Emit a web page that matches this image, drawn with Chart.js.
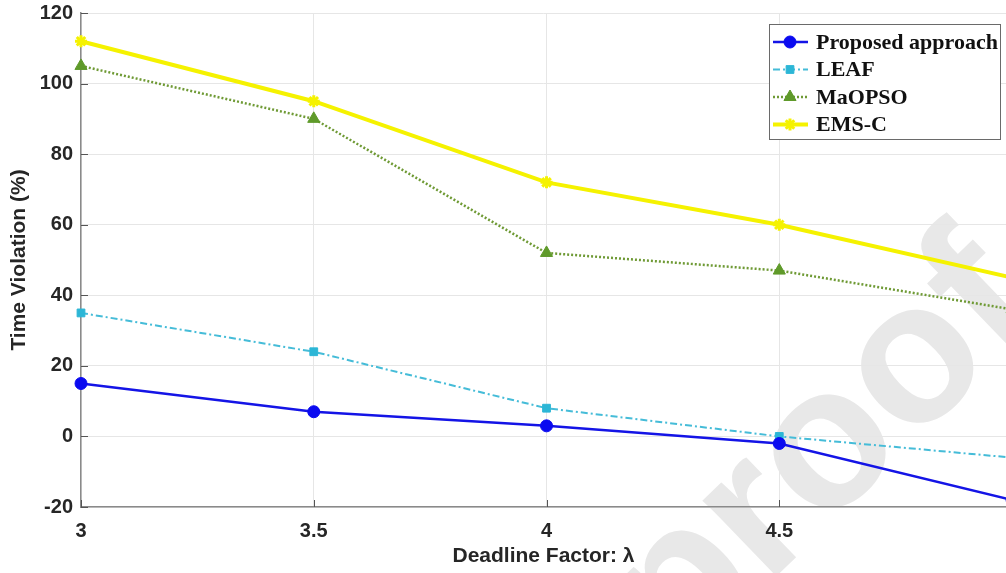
<!DOCTYPE html>
<html>
<head>
<meta charset="utf-8">
<script src="https://cdn.jsdelivr.net/npm/chart.js@4/dist/chart.umd.min.js"></script>
<style>
  html, body { margin: 0; padding: 0; background: #fff; overflow: hidden; }
  #chart { display: block; }
</style>
</head>
<body>
<canvas id="chart" width="1006" height="573"></canvas>
<script>
// Deadline factor values (x axis); the original figure is cut just before 5
const deadlineFactors = [3, 3.5, 4, 4.5, 5];
const xRange = [3, 4.987];

// Time violation (%) per method
const proposedValues = [15, 7, 3, -2, -18];
const leafValues = [35, 24, 8, 0, -6];
const maopsoValues = [105, 90, 52, 47, 36];
const emscValues = [112, 95, 72, 60, 45];

const seriesNames = ['Proposed approach', 'LEAF', 'MaOPSO', 'EMS-C'];
const yTicks = [-20, 0, 20, 40, 60, 80, 100, 120];
const xTicks = [3, 3.5, 4, 4.5];

function toPoints(values) {
  return values.map((v, i) => ({ x: deadlineFactors[i], y: v }));
}

// Legend drawn inside the plot, line + marker per entry (MATLAB style)
const insideLegend = {
  id: 'insideLegend',
  afterDraw(chart) {
    const { ctx, chartArea } = chart;
    const boxR = chartArea.right - 6;
    const boxL = boxR - 231;
    const boxT = chartArea.top + 11;
    const rowH = 27.5;
    const boxH = rowH * 4 + 5;
    ctx.save();
    ctx.fillStyle = '#fff';
    ctx.fillRect(boxL, boxT, boxR - boxL, boxH);
    ctx.strokeStyle = '#6a6a6a';
    ctx.lineWidth = 1;
    ctx.strokeRect(boxL + 0.5, boxT + 0.5, boxR - boxL, boxH);
    chart.data.datasets.forEach((ds, i) => {
      const y = boxT + 18 + i * rowH;
      ctx.save();
      ctx.strokeStyle = ds.borderColor;
      ctx.lineWidth = ds.borderWidth;
      ctx.setLineDash(ds.borderDash || []);
      ctx.beginPath();
      ctx.moveTo(boxL + 4, y);
      ctx.lineTo(boxL + 39, y);
      ctx.stroke();
      ctx.restore();
      ctx.save();
      ctx.fillStyle = ds.pointBackgroundColor;
      ctx.strokeStyle = ds.pointBorderColor;
      ctx.lineWidth = ds.pointBorderWidth;
      Chart.helpers.drawPoint(ctx, {
        pointStyle: ds.pointStyle,
        radius: ds.pointRadius,
        rotation: 0,
        borderWidth: ds.pointBorderWidth
      }, boxL + 21, y);
      ctx.restore();
      ctx.fillStyle = '#111';
      ctx.font = 'bold 22px "Liberation Serif", "Times New Roman", serif';
      ctx.textBaseline = 'middle';
      ctx.textAlign = 'left';
      ctx.fillText(ds.label, boxL + 47, y + 1);
    });
    ctx.restore();
  }
};

// Small inward tick marks on the axes
const innerTicks = {
  id: 'innerTicks',
  afterDatasetsDraw(chart) {
    const { ctx, chartArea, scales } = chart;
    ctx.save();
    ctx.strokeStyle = '#555';
    ctx.lineWidth = 1;
    ctx.beginPath();
    xTicks.forEach(v => {
      const x = Math.round(scales.x.getPixelForValue(v)) + 0.5;
      ctx.moveTo(x, chartArea.bottom);
      ctx.lineTo(x, chartArea.bottom - 7);
    });
    yTicks.forEach(v => {
      const y = Math.round(scales.y.getPixelForValue(v)) + 0.5;
      ctx.moveTo(chartArea.left, y);
      ctx.lineTo(chartArea.left + 7, y);
    });
    ctx.stroke();
    ctx.restore();
  }
};

// Journal pre-proof watermark, painted first so axes and labels sit on top
const watermark = {
  id: 'watermark',
  beforeDraw(chart) {
    const { ctx } = chart;
    const size = 200;
    ctx.save();
    ctx.font = 'bold ' + size + 'px "Liberation Sans", Arial, sans-serif';
    ctx.fillStyle = '#e8e8e8';
    ctx.textBaseline = 'alphabetic';
    ctx.textAlign = 'left';
    const text = 'Journal Pre-proof';
    const before = ctx.measureText('Journal Pre-pr').width;
    const oW = ctx.measureText('o').width;
    ctx.translate(830, 452);
    ctx.rotate(-44 * Math.PI / 180);
    ctx.fillText(text, -(before + oW / 2), size * 0.26);
    ctx.restore();
  }
};

const tickFont = { family: '"Liberation Sans", Arial, sans-serif', size: 20, weight: 'bold' };
const titleFont = { family: '"Liberation Sans", Arial, sans-serif', size: 21, weight: 'bold' };

new Chart(document.getElementById('chart'), {
  type: 'line',
  data: {
    datasets: [
      {
        label: seriesNames[0],
        data: toPoints(proposedValues),
        borderColor: '#1414e6',
        borderWidth: 2.5,
        pointStyle: 'circle',
        pointRadius: 6,
        pointBackgroundColor: '#0a0af0',
        pointBorderColor: '#0a0af0',
        pointBorderWidth: 1,
        tension: 0,
        clip: false,
      },
      {
        label: seriesNames[1],
        data: toPoints(leafValues),
        borderColor: '#45bcd8',
        borderWidth: 2,
        borderDash: [7, 3, 2, 3],
        pointStyle: 'rect',
        pointRadius: 5.5,
        pointBackgroundColor: '#2cb6d6',
        pointBorderColor: '#2cb6d6',
        pointBorderWidth: 1,
        tension: 0,
        clip: false,
      },
      {
        label: seriesNames[2],
        data: toPoints(maopsoValues),
        borderColor: '#6f9a35',
        borderWidth: 2.5,
        borderDash: [2, 2],
        pointStyle: 'triangle',
        pointRadius: 7,
        pointBackgroundColor: '#5f9a2a',
        pointBorderColor: '#5f9a2a',
        pointBorderWidth: 1,
        tension: 0,
        clip: false,
      },
      {
        label: seriesNames[3],
        data: toPoints(emscValues),
        borderColor: '#f5f200',
        borderWidth: 4,
        pointStyle: 'star',
        pointRadius: 6,
        pointBackgroundColor: '#f5f200',
        pointBorderColor: '#f5f200',
        pointBorderWidth: 3,
        tension: 0,
        clip: false,
      },
    ],
  },
  options: {
    responsive: false,
    animation: false,
    devicePixelRatio: 1,
    layout: { autoPadding: false, padding: { top: 13, right: 0, bottom: 0, left: 0 } },
    plugins: {
      legend: { display: false },
      tooltip: { enabled: false },
    },
    scales: {
      x: {
        type: 'linear',
        min: xRange[0],
        max: xRange[1],
        afterBuildTicks: (scale) => { scale.ticks = xTicks.map(v => ({ value: v })); },
        afterFit: (scale) => { scale.height = 66; scale.paddingLeft = 0; scale.paddingRight = 0; },
        grid: { color: '#e6e6e6', lineWidth: 1, drawTicks: false },
        border: { color: '#8a8a8a', width: 1.5 },
        ticks: { font: tickFont, color: '#262626', padding: 12, maxRotation: 0, autoSkip: false,
                 callback: (v) => String(v) },
        title: { display: true, text: 'Deadline Factor: \u03bb', font: titleFont, color: '#262626',
                 padding: { top: 0, bottom: 4 } },
      },
      y: {
        min: -20,
        max: 120,
        afterBuildTicks: (scale) => { scale.ticks = yTicks.map(v => ({ value: v })); },
        afterFit: (scale) => { scale.width = 81; scale.paddingTop = 0; scale.paddingBottom = 0; },
        grid: { color: '#e6e6e6', lineWidth: 1, drawTicks: false },
        border: { color: '#8a8a8a', width: 1.5 },
        ticks: { font: tickFont, color: '#262626', padding: 8 },
        title: { display: true, text: 'Time Violation (%)', font: titleFont, color: '#262626',
                 padding: { top: 7, bottom: 0 } },
      },
    },
  },
  plugins: [watermark, innerTicks, insideLegend],
});
</script>
</body>
</html>
